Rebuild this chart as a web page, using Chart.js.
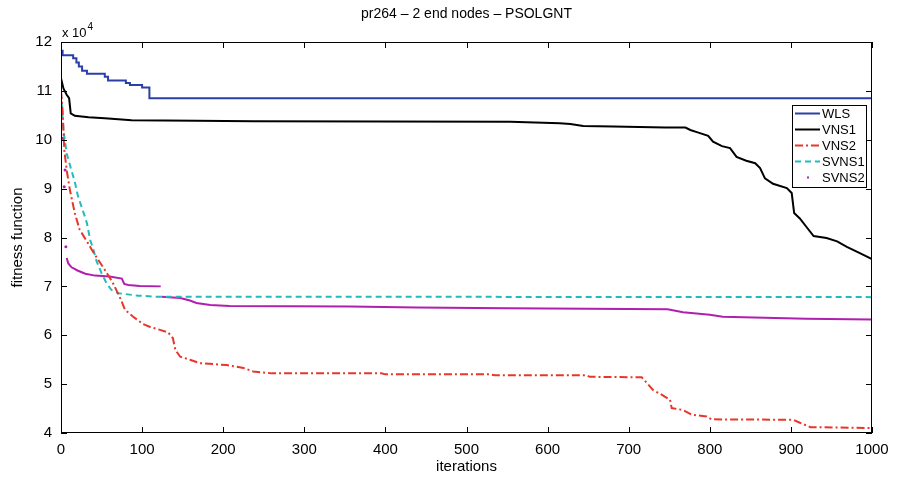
<!DOCTYPE html>
<html><head><meta charset="utf-8">
<script src="https://cdn.jsdelivr.net/npm/chart.js@4.4.1/dist/chart.umd.min.js"></script>
<style>html,body{margin:0;padding:0;background:#fff}canvas{display:block}</style>
</head><body>
<canvas id="c" width="898" height="487"></canvas>
<script>
const chartTitle = 'pr264 \u2013 2 end nodes \u2013 PSOLGNT';
const xLabel = 'iterations';
const yLabel = 'fitness function';
const seriesNames = ['WLS', 'VNS1', 'VNS2', 'SVNS1', 'SVNS2'];
const xTicks = [0, 100, 200, 300, 400, 500, 600, 700, 800, 900, 1000];
const yTicks = [40000, 50000, 60000, 70000, 80000, 90000, 100000, 110000, 120000];

const wlsIter = [0, 2, 15, 19, 22, 26, 32, 54, 58, 80, 85, 100, 109, 1000];
const wlsFit  = [118200, 117300, 116700, 115800, 115000, 114100, 113500, 112900, 112100, 111600, 111200, 110700, 108500, 108500];

const vns1Iter = [0, 3, 7, 10, 12, 17, 34, 54, 87, 167, 237, 554, 615, 628, 644, 681, 745, 770, 776, 785, 798, 804, 815, 825, 833, 845, 856, 862, 868, 878, 895, 901, 904, 911, 919, 928, 944, 957, 969, 985, 1000];
const vns1Fit  = [112600, 110500, 109200, 108500, 105400, 104900, 104600, 104400, 104000, 103900, 103800, 103700, 103400, 103200, 102800, 102700, 102500, 102500, 102000, 101500, 100800, 99600, 98700, 98300, 96500, 95700, 95200, 94200, 92100, 91000, 90100, 89100, 85000, 83900, 82200, 80300, 79900, 79200, 78100, 76800, 75600];

const vns2Iter = [0, 2, 3, 4, 7, 11, 17, 23, 32, 38, 46, 54, 64, 73, 79, 89, 101, 110, 122, 132, 138, 141, 147, 159, 171, 204, 225, 237, 260, 395, 400, 529, 535, 648, 652, 716, 720, 730, 741, 751, 753, 767, 778, 796, 802, 903, 911, 924, 1000];
const vns2Fit  = [110000, 106000, 102000, 98000, 93800, 89700, 85000, 81600, 79200, 77500, 75400, 73400, 70700, 67600, 65200, 63800, 62300, 61700, 61100, 60600, 59400, 57000, 55600, 55000, 54300, 53900, 53300, 52600, 52200, 52200, 52000, 52000, 51800, 51800, 51500, 51400, 50700, 48800, 47800, 46800, 45100, 44700, 43700, 43400, 42800, 42700, 42100, 41200, 41000];

const svns1Iter = [0, 3, 7, 14, 17, 21, 28, 32, 36, 40, 44, 50, 56, 62, 71, 95, 116, 1000];
const svns1Fit  = [109500, 102000, 97200, 93100, 91400, 88400, 85000, 82900, 79500, 77500, 75100, 72700, 70700, 69300, 68600, 68100, 67900, 67800];

const svns2Iter = [2, 3, 4, 4.5, 5, 5.5, 6, 6.5, 7, 9, 13, 21, 30, 42, 60, 75, 78, 83, 97, 123, 123.5, 124, 147, 159, 167, 184, 208, 356, 439, 550, 650, 748, 767, 800, 816, 919, 1000];
const svns2Fit  = [100300, null, 90400, null, 93800, null, 78100, null, 75800, 74700, 73900, 73200, 72600, 72200, 72000, 71600, 70500, 70300, 70100, 70000, null, 67900, 67600, 67100, 66600, 66200, 66000, 65900, 65700, 65500, 65400, 65300, 64700, 64200, 63800, 63400, 63200];

const colors = ['#2b3fa8', '#000000', '#e8362a', '#22bcbc', '#b01fae'];
const dashes = [[], [], [8, 3, 2, 3], [6, 4], []];

function pts(xs, ys) { return xs.map((x, i) => ({ x: x, y: ys[i] })); }

const FONT = 'Liberation Sans, Arial, Helvetica, sans-serif';

const frame = {
  id: 'frame',
  afterDraw(chart) {
    const ctx = chart.ctx, a = chart.chartArea;
    const xs = chart.scales.x, ys = chart.scales.y;
    ctx.save();
    ctx.strokeStyle = '#000'; ctx.lineWidth = 1; ctx.setLineDash([]);
    ctx.strokeRect(a.left + 0.5, a.top + 0.5, a.right - a.left - 1, a.bottom - a.top - 1);
    const tl = 6;
    ctx.beginPath();
    xTicks.forEach(v => {
      const px = Math.round(xs.getPixelForValue(v)) + 0.5;
      ctx.moveTo(px, a.bottom); ctx.lineTo(px, a.bottom - tl);
      ctx.moveTo(px, a.top); ctx.lineTo(px, a.top + tl);
    });
    yTicks.forEach(v => {
      const py = Math.round(ys.getPixelForValue(v)) + 0.5;
      ctx.moveTo(a.left, py); ctx.lineTo(a.left + tl, py);
      ctx.moveTo(a.right, py); ctx.lineTo(a.right - tl, py);
    });
    ctx.stroke();

    ctx.fillStyle = '#000';
    ctx.font = '14px ' + FONT;
    ctx.textAlign = 'center'; ctx.textBaseline = 'middle';
    ctx.fillText(chartTitle, (a.left + a.right) / 2, 14);
    ctx.font = '15px ' + FONT;
    ctx.fillText(xLabel, (a.left + a.right) / 2, 467);
    ctx.save();
    ctx.translate(18, (a.top + a.bottom) / 2);
    ctx.rotate(-Math.PI / 2);
    ctx.fillText(yLabel, 0, 0);
    ctx.restore();
    ctx.textAlign = 'left'; ctx.textBaseline = 'alphabetic';
    ctx.font = '13px ' + FONT;
    ctx.fillText('x 10', a.left + 1, 37);
    const w = ctx.measureText('x 10').width;
    ctx.font = '10px ' + FONT;
    ctx.fillText('4', a.left + 1 + w + 1, 30);

    // legend
    const lx = 792, ly = 105, lw = 74, lh = 82;
    ctx.fillStyle = '#fff';
    ctx.fillRect(lx, ly, lw, lh);
    ctx.strokeStyle = '#000'; ctx.lineWidth = 1;
    ctx.strokeRect(lx + 0.5, ly + 0.5, lw, lh);
    ctx.font = '13px ' + FONT;
    ctx.textBaseline = 'middle';
    chart.data.datasets.forEach((ds, i) => {
      const y = ly + 8.5 + i * 16;
      if (i < 4) {
        ctx.strokeStyle = ds.borderColor; ctx.lineWidth = 2;
        ctx.setLineDash(ds.borderDash || []);
        ctx.beginPath(); ctx.moveTo(lx + 3, y); ctx.lineTo(lx + 28, y); ctx.stroke();
        ctx.setLineDash([]);
      } else {
        ctx.fillStyle = ds.borderColor;
        ctx.fillRect(lx + 15, y - 1, 2, 2);
      }
      ctx.fillStyle = '#000';
      ctx.fillText(ds.label, lx + 30, y + 0.5);
    });
    ctx.restore();
  }
};

const datasets = [
  { label: seriesNames[0], data: pts(wlsIter, wlsFit), stepped: true },
  { label: seriesNames[1], data: pts(vns1Iter, vns1Fit) },
  { label: seriesNames[2], data: pts(vns2Iter, vns2Fit) },
  { label: seriesNames[3], data: pts(svns1Iter, svns1Fit) },
  { label: seriesNames[4], data: pts(svns2Iter, svns2Fit),
    pointRadius: ctx => (ctx.dataIndex < 8 ? 1.5 : 0), pointBorderWidth: 0 }
].map((d, i) => Object.assign({
  borderColor: colors[i], backgroundColor: colors[i], pointBackgroundColor: colors[i],
  borderDash: dashes[i], borderWidth: 2, pointRadius: 0, fill: false, spanGaps: false, tension: 0
}, d));

new Chart(document.getElementById('c'), {
  type: 'line',
  data: { datasets },
  options: {
    responsive: false, animation: false, devicePixelRatio: 1,
    layout: { padding: { top: 42, right: 26, left: 0, bottom: 0 } },
    plugins: { legend: { display: false }, title: { display: false }, tooltip: { enabled: false } },
    scales: {
      x: {
        type: 'linear', min: 0, max: 1000,
        afterBuildTicks: s => { s.ticks = xTicks.map(v => ({ value: v })); },
        grid: { display: false, drawTicks: false }, border: { display: false },
        ticks: { padding: 8, color: '#000', maxRotation: 0, autoSkip: false, font: { family: FONT, size: 15 }, callback: v => String(v) },
        afterFit: s => { s.height = 54; }
      },
      y: {
        type: 'linear', min: 40000, max: 120000,
        afterBuildTicks: s => { s.ticks = yTicks.map(v => ({ value: v })); },
        grid: { display: false, drawTicks: false }, border: { display: false },
        ticks: { padding: 9, color: '#000', autoSkip: false, font: { family: FONT, size: 15 }, callback: v => String(v / 10000) },
        afterFit: s => { s.width = 61; }
      }
    }
  },
  plugins: [frame]
});
</script>
</body></html>
